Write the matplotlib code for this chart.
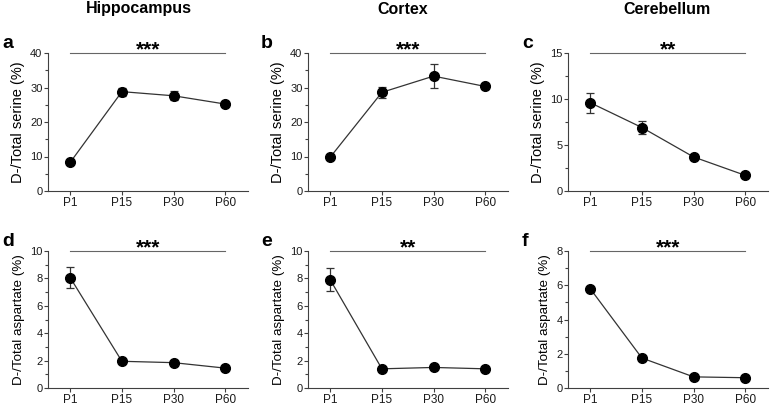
import numpy as np
import matplotlib.pyplot as plt
from matplotlib.ticker import MultipleLocator

plt.rcParams['font.family'] = ['Liberation Sans', 'DejaVu Sans']

ages = ['P1', 'P15', 'P30', 'P60']

hip_ser = [8.3, 28.8, 27.6, 25.2]
hip_ser_err = [0.4, 1.2, 1.3, 0.5]
ctx_ser = [9.8, 28.6, 33.3, 30.3]
ctx_ser_err = [0.3, 1.5, 3.5, 0.8]
cb_ser = [9.6, 6.9, 3.7, 1.7]
cb_ser_err = [1.1, 0.7, 0.2, 0.15]

hip_asp = [8.05, 1.95, 1.85, 1.45]
hip_asp_err = [0.75, 0.1, 0.1, 0.1]
ctx_asp = [7.9, 1.4, 1.5, 1.4]
ctx_asp_err = [0.85, 0.08, 0.08, 0.08]
cb_asp = [5.8, 1.75, 0.65, 0.6]
cb_asp_err = [0.12, 0.12, 0.05, 0.05]

regions = ['Hippocampus', 'Cortex', 'Cerebellum']
letters = ['a', 'b', 'c', 'd', 'e', 'f']
stars = ['***', '***', '**', '***', '**', '***']

fig = plt.figure(figsize=(7.78, 4.05), dpi=100)

lefts = [48/778, 308/778, 568/778]
w = 200/778
rows = [(1-191/405, 138/405), (1-388/405, 137/405)]

panels = [
    (hip_ser, hip_ser_err, 40, 10, 'D-/Total serine (%)', 10.5),
    (ctx_ser, ctx_ser_err, 40, 10, 'D-/Total serine (%)', 10.5),
    (cb_ser, cb_ser_err, 15, 5, 'D-/Total serine (%)', 10.5),
    (hip_asp, hip_asp_err, 10, 2, 'D-/Total aspartate (%)', 9.6),
    (ctx_asp, ctx_asp_err, 10, 2, 'D-/Total aspartate (%)', 9.6),
    (cb_asp, cb_asp_err, 8, 2, 'D-/Total aspartate (%)', 9.6),
]

x = np.arange(len(ages))
axc = '#404040'

for i, (vals, errs, ymax, step, ylab, yfs) in enumerate(panels):
    r, c = divmod(i, 3)
    b, h = rows[r]
    ax = fig.add_axes([lefts[c], b, w, h])
    ax.errorbar(x, vals, yerr=errs, color='#333333', lw=0.9, marker='o',
                ms=7, mfc='black', mec='black', ecolor='#333333',
                elinewidth=0.9, capsize=3, capthick=0.9)
    ax.set_xlim(-0.43, 3.44)
    ax.set_ylim(0, ymax)
    ax.yaxis.set_major_locator(MultipleLocator(step))
    ax.yaxis.set_minor_locator(MultipleLocator(step/2))
    ax.set_xticks(x)
    ax.set_xticklabels(ages)
    for s in ['top', 'right']:
        ax.spines[s].set_visible(False)
    for s in ['left', 'bottom']:
        ax.spines[s].set_color(axc)
        ax.spines[s].set_linewidth(0.8)
    ax.tick_params(which='both', colors=axc, labelcolor='#1a1a1a', width=0.8)
    ax.tick_params(axis='x', length=3, labelsize=8.5, pad=1.5)
    ax.tick_params(axis='y', which='major', length=3, labelsize=8, pad=1)
    ax.tick_params(axis='y', which='minor', length=2)
    ax.set_ylabel(ylab, fontsize=yfs, labelpad=4)

    # significance bar across all ages
    ax.plot([0, 3], [ymax, ymax], color='#666666', lw=0.8, clip_on=False)
    ax.annotate(stars[i], xy=(1.5, ymax), xytext=(0, -1.5),
                textcoords='offset points', ha='center', va='baseline',
                fontsize=15, fontweight='bold', annotation_clip=False)

    lx = [2, 261, 522][c] / 778
    ly = 1 - [43, 242][r] / 405
    fig.text(lx, ly, letters[i], fontsize=14, fontweight='bold',
             ha='left', va='center')

for c, name in enumerate(regions):
    cx = [139, 403, 667][c] / 778
    fig.text(cx, 1 - 9/405, name, fontsize=11.5, fontweight='bold',
             ha='center', va='center')

plt.savefig('out.png', dpi=100)
